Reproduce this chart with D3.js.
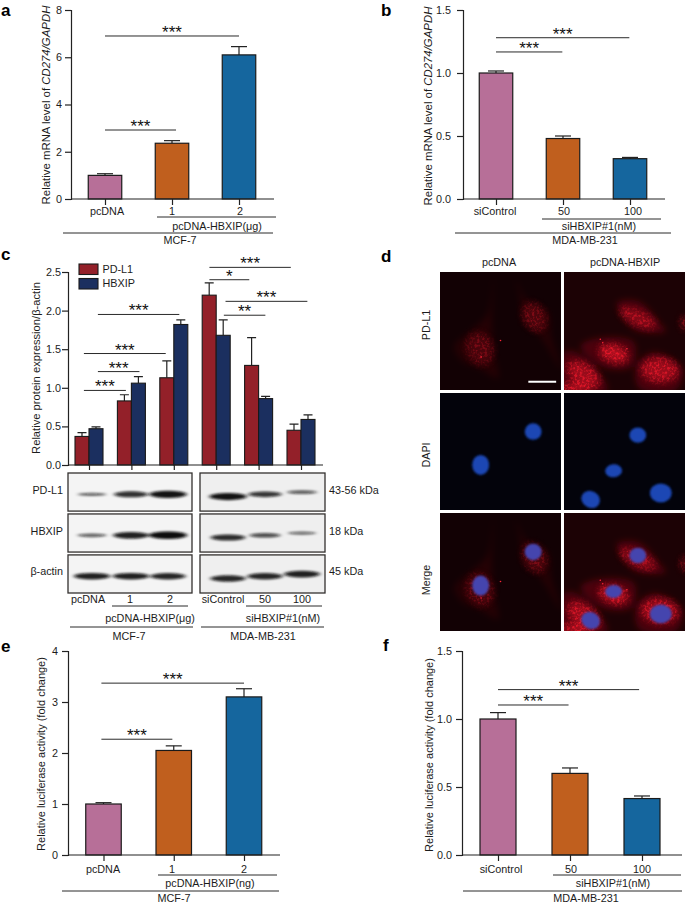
<!DOCTYPE html>
<html>
<head>
<meta charset="utf-8">
<script src="https://cdn.jsdelivr.net/npm/d3@7"></script>
<style>
  html, body { margin: 0; padding: 0; background: #fff; }
  svg { display: block; }
  text { font-family: "Liberation Sans", Arial, sans-serif; fill: #1c1c1c; font-size: 10.8px; }
  .letter { font-weight: bold; font-size: 17px; fill: #000; }
  .star { font-size: 17px; fill: #111; text-anchor: middle; }
  .rule { stroke: #2a2a2a; stroke-width: 1; fill: none; }
  .domain, .tick line { stroke: #222; stroke-width: 1.2; }
</style>
</head>
<body>
<svg id="fig" width="685" height="903"></svg>
<script>
// panel a
var aMeans = [1.0, 2.36, 6.1];
var aTops = [1.07, 2.47, 6.45];
var aSig = [[0, 2, 6.9, "***"], [0, 1.06, 2.92, "***"]];
// panel b
var bMeans = [1.0, 0.48, 0.32];
var bTops = [1.016, 0.5, 0.33];
var bSig = [[0, 1.99, 1.28, "***"], [0, 0.99, 1.167, "***"]];
// panel c
var cPDL1 = [0.37, 0.83, 1.13, 2.2, 1.29, 0.45];
var cPDL1Tops = [0.42, 0.91, 1.35, 2.36, 1.65, 0.53];
var cHBXIP = [0.47, 1.06, 1.82, 1.68, 0.86, 0.59];
var cHBXIPTops = [0.495, 1.146, 1.88, 1.88, 0.888, 0.65];
var cSig = [
  [-0.12, 0.87, 0.966, "***"], [0.21, 1.19, 1.21, "***"], [-0.12, 1.81, 1.444, "***"],
  [0.21, 2.13, 1.95, "***"], [2.84, 4.76, 2.56, "***"], [2.84, 3.78, 2.4, "*"],
  [3.22, 5.15, 2.12, "***"], [3.18, 4.16, 1.94, "**"]
];
// panel e
var eMeans = [1.0, 2.05, 3.1];
var eTops = [1.026, 2.14, 3.26];
var eSig = [[-0.03, 2, 3.37, "***"], [-0.03, 0.98, 2.27, "***"]];
// panel f
var fMeans = [1.0, 0.6, 0.415];
var fTops = [1.047, 0.64, 0.434];
var fSig = [[0, 1.96, 1.216, "***"], [0, 0.98, 1.103, "***"]];

var threeColors = ["#b76f98", "#c05f1e", "#15669e"];
var seriesNames = ["PD-L1", "HBXIP"];
var seriesColors = ["#932029", "#1b2f5f"];

// western blot band strengths, one row per antibody, lanes left to right
var blotRows = ["PD-L1", "HBXIP", "β-actin"];
var blotSizes = ["43-56 kDa", "18 kDa", "45 kDa"];
var blotMCF = [[0.3, 0.72, 0.95], [0.35, 0.85, 1.0], [0.85, 0.85, 0.8]];
var blotMDA = [[0.95, 0.68, 0.38], [0.75, 0.5, 0.28], [0.8, 0.8, 0.85]];

// micrograph contents in 0-100 panel units
var ctrlBodies = [
  [[44, 5], [43, 41], [45, 69], [48, 90], [33, 82], [18, 75], [12, 63], [26, 49], [39, 36]],
  [[63, 6], [71, 23], [89, 33], [92, 55], [100, 82], [83, 55], [68, 41], [66, 21]]
];
var ctrlBlobs = [[33, 65, 11, 14, -20, 0.55], [78, 38, 9, 13, -25, 0.6]];
var ctrlNuclei = [[33.6, 61.5, 7, 8.5, 0], [77, 33, 7, 7, 0]];
var ctrlDots = [[34, 72], [50, 58]];
var hbxipBodies = [
  [[44, 26], [62, 25], [80, 44], [84, 50], [60, 50], [48, 38]],
  [[14, 62], [36, 55], [58, 60], [56, 80], [36, 82], [20, 72]],
  [[0, 68], [14, 70], [36, 100], [0, 100]],
  [[60, 78], [75, 68], [98, 82], [92, 100], [62, 98]]
];
var hbxipBlobs = [
  [61, 39, 16, 6, 25, 0.6], [41, 69, 12, 7, 15, 1], [79, 83, 15, 10, 5, 0.8],
  [16, 87, 15, 9, 35, 0.8], [10, 98, 14, 4, 0, 1], [100, 43, 3, 6, 0, 0.6]
];
var hbxipNuclei = [[61, 36, 7, 6.5, 0], [41, 66.5, 7, 5.5, -5], [80, 85.5, 9, 8, 0], [22, 91, 8, 7, 30]];
var hbxipDots = [[30, 57], [52, 65], [32, 60]];

var svg = d3.select("#fig");
var defs = svg.append("defs");

function addText(g, x, y, str, anchor) {
  return g.append("text").attr("x", x).attr("y", y).attr("text-anchor", anchor || "middle").text(str);
}

function addRule(g, x1, x2, y) {
  g.append("line").attr("class", "rule").attr("x1", x1).attr("x2", x2).attr("y1", y).attr("y2", y);
}

function addYLabel(g, x, y, parts, size) {
  var t = g.append("text").attr("transform", "translate(" + x + "," + y + ") rotate(-90)").attr("text-anchor", "middle").style("font-size", size + "px");
  parts.forEach(function(p) {
    t.append("tspan").style("font-style", p[1] ? "italic" : "normal").text(p[0]);
  });
}

// axes shared by every bar panel
function drawAxes(g, p, xScale, n) {
  g.append("g").attr("transform", "translate(" + p.left + ",0)")
    .call(d3.axisLeft(p.y).tickValues(p.ticks).tickFormat(p.fmt).tickSize(6).tickPadding(p.pad))
    .call(function(s) { s.selectAll("text").style("font-size", "10.8px"); });
  var tail = d3.axisBottom(xScale).tickValues(d3.range(n)).tickFormat("").tickSize(p.tickLen).tickSizeOuter(0);
  var xg = g.append("g").attr("transform", "translate(0," + p.y(0) + ")").call(tail);
  xg.select(".domain").attr("d", "M" + p.left + ",0H" + p.right);
}

function drawSig(g, xScale, yScale, sig) {
  sig.forEach(function(s) {
    addRule(g, xScale(s[0]), xScale(s[1]), yScale(s[2]));
    g.append("text").attr("class", "star")
      .attr("x", (xScale(s[0]) + xScale(s[1])) / 2)
      .attr("y", yScale(s[2]) + 2)
      .text(s[3]);
  });
}

function barPanel(p) {
  var g = svg.append("g");
  var x = d3.scaleLinear().domain([0, 2]).range(p.xs);
  g.selectAll("line.err").data(p.means).enter().append("line").attr("class", "err")
    .attr("x1", function(d, i) { return x(i); }).attr("x2", function(d, i) { return x(i); })
    .attr("y1", function(d) { return p.y(d); })
    .attr("y2", function(d, i) { return p.y(p.tops[i]); })
    .attr("stroke", "#222").attr("stroke-width", 1.2);
  g.selectAll("line.cap").data(p.tops).enter().append("line").attr("class", "cap")
    .attr("x1", function(d, i) { return x(i) - 8; }).attr("x2", function(d, i) { return x(i) + 8; })
    .attr("y1", function(d) { return p.y(d); }).attr("y2", function(d) { return p.y(d); })
    .attr("stroke", "#222").attr("stroke-width", 1.2);
  g.selectAll("rect").data(p.means).enter().append("rect")
    .attr("x", function(d, i) { return x(i) - p.barW / 2; })
    .attr("width", p.barW)
    .attr("y", function(d) { return p.y(d); })
    .attr("height", function(d) { return p.y(0) - p.y(d); })
    .attr("fill", function(d, i) { return threeColors[i]; })
    .attr("stroke", "#1a1a1a").attr("stroke-width", 1.2);
  drawAxes(g, p, x, 3);
  drawSig(g, x, p.y, p.sig);
  addYLabel(g, p.labelX, p.labelY, p.label, p.labelSize);
  p.texts.forEach(function(t) { addText(g, t[0], t[1], t[2]); });
  p.rules.forEach(function(r) { addRule(g, r[0], r[1], r[2]); });
}

var mrna = [["Relative mRNA level of "], ["CD274/GAPDH", true]];
var luc = [["Relative luciferase activity (fold change)"]];

barPanel({
  means: aMeans, tops: aTops, sig: aSig, xs: [105, 239], barW: 33.5, left: 71, right: 274, tickLen: 6, pad: 3,
  y: d3.scaleLinear().domain([0, 8]).range([199, 10]), ticks: [0, 2, 4, 6, 8], fmt: d3.format("d"),
  label: mrna, labelX: 50, labelY: 105, labelSize: 11.4,
  texts: [[107, 215, "pcDNA"], [172, 215, "1"], [240, 215, "2"], [217, 230, "pcDNA-HBXIP(μg)"], [180, 244, "MCF-7"]],
  rules: [[157, 276, 217], [63, 273, 233]]
});
barPanel({
  means: bMeans, tops: bTops, sig: bSig, xs: [496, 630], barW: 33.5, left: 463, right: 665, tickLen: 6, pad: 6,
  y: d3.scaleLinear().domain([0, 1.5]).range([199, 10]), ticks: [0, 0.5, 1, 1.5], fmt: d3.format(".1f"),
  label: mrna, labelX: 432, labelY: 106, labelSize: 11.4,
  texts: [[495, 215, "siControl"], [564, 215, "50"], [633, 215, "100"], [599, 230, "siHBXIP#1(nM)"], [585, 244, "MDA-MB-231"]],
  rules: [[542, 661, 219], [455, 671, 233]]
});
barPanel({
  means: eMeans, tops: eTops, sig: eSig, xs: [103.5, 244], barW: 35.5, left: 68, right: 280, tickLen: 6, pad: 4,
  y: d3.scaleLinear().domain([0, 4]).range([855, 651]), ticks: [0, 1, 2, 3, 4], fmt: d3.format("d"),
  label: luc, labelX: 45, labelY: 754, labelSize: 11,
  texts: [[103, 873, "pcDNA"], [172, 873, "1"], [244, 873, "2"], [210, 887, "pcDNA-HBXIP(ng)"], [174, 902, "MCF-7"]],
  rules: [[158, 277, 875], [62, 279, 891]]
});
barPanel({
  means: fMeans, tops: fTops, sig: fSig, xs: [498, 642], barW: 36, left: 462, right: 682, tickLen: 6, pad: 4,
  y: d3.scaleLinear().domain([0, 1.5]).range([855, 651]), ticks: [0, 0.5, 1, 1.5], fmt: d3.format(".1f"),
  label: luc, labelX: 433, labelY: 755, labelSize: 11,
  texts: [[501, 873, "siControl"], [571, 873, "50"], [642, 873, "100"], [613, 887, "siHBXIP#1(nM)"], [586, 902, "MDA-MB-231"]],
  rules: [[553, 681, 875], [463, 682, 891]]
});

// panel c grouped bars
(function() {
  var g = svg.append("g");
  var y = d3.scaleLinear().domain([0, 2.5]).range([465, 272]);
  var x = d3.scaleLinear().domain([0, 5]).range([89, 301]);
  var bw = 14;
  var series = [[cPDL1, cPDL1Tops, -1], [cHBXIP, cHBXIPTops, 0]];
  series.forEach(function(s, k) {
    var sg = g.append("g");
    sg.selectAll("path").data(s[0]).enter().append("path")
      .attr("d", function(d, i) {
        var cx = x(i) + (s[2] + 0.5) * bw;
        return "M" + (cx - 4.5) + "," + y(s[1][i]) + "H" + (cx + 4.5) + "M" + cx + "," + y(s[1][i]) + "V" + y(d);
      })
      .attr("stroke", "#222").attr("stroke-width", 1.2).attr("fill", "none");
    sg.selectAll("rect").data(s[0]).enter().append("rect")
      .attr("x", function(d, i) { return x(i) + s[2] * bw; })
      .attr("width", bw)
      .attr("y", function(d) { return y(d); })
      .attr("height", function(d) { return y(0) - y(d); })
      .attr("fill", seriesColors[k])
      .attr("stroke", "#1a1a1a").attr("stroke-width", 1.1);
  });
  drawAxes(g, { left: 68, right: 323, y: y, ticks: [0, 0.5, 1, 1.5, 2, 2.5], fmt: d3.format(".1f"), tickLen: 5, pad: 1 }, x, 6);
  drawSig(g, x, y, cSig);
  addYLabel(g, 40, 368, [["Relative protein expression/β-actin"]], 11.2);
  seriesNames.forEach(function(name, i) {
    g.append("rect").attr("x", 79).attr("y", 264 + i * 14.5).attr("width", 19).attr("height", 10.5)
      .attr("fill", seriesColors[i]).attr("stroke", "#1a1a1a").attr("stroke-width", 1.1);
    addText(g, 102.5, 272.5 + i * 14.7, name, "start");
  });

  // blots
  defs.append("filter").attr("id", "bandBlur").attr("x", "-30%").attr("y", "-100%").attr("width", "160%").attr("height", "300%")
    .append("feGaussianBlur").attr("stdDeviation", "2.2 1.1");
  var rowY = d3.scaleBand().domain(blotRows).range([473, 593]).paddingInner(0.07).paddingOuter(0);
  var groups = [
    { lanes: blotMCF, x0: 68, x1: 192, centers: [92, 131, 168], tilt: 0, fill: "#f4f4f4" },
    { lanes: blotMDA, x0: 200, x1: 325, centers: [228, 265, 302], tilt: -2.2, fill: "#efefef" }
  ];
  groups.forEach(function(b) {
    blotRows.forEach(function(name, r) {
      var top = rowY(name), h = rowY.bandwidth();
      var clipId = "blot" + b.x0 + r;
      defs.append("clipPath").attr("id", clipId).append("rect").attr("x", b.x0).attr("y", top).attr("width", b.x1 - b.x0).attr("height", h);
      g.append("rect").attr("x", b.x0).attr("y", top).attr("width", b.x1 - b.x0).attr("height", h).attr("fill", b.fill);
      g.append("g").attr("clip-path", "url(#" + clipId + ")").attr("filter", "url(#bandBlur)")
        .selectAll("ellipse").data(b.lanes[r]).enter().append("ellipse")
        .attr("cx", function(d, i) { return b.centers[i]; })
        .attr("cy", function(d, i) { return top + h * 0.56 + (i - 1) * b.tilt; })
        .attr("rx", function(d) { return 12 + 7 * d; })
        .attr("ry", function(d) { return 0.8 + 3 * d; })
        .attr("fill", "#0c0c0c")
        .attr("opacity", function(d) { return 0.45 + 0.55 * d; });
      g.append("rect").attr("x", b.x0).attr("y", top).attr("width", b.x1 - b.x0).attr("height", h)
        .attr("fill", "none").attr("stroke", "#33302e").attr("stroke-width", 1.3);
    });
  });
  var sideY = [494, 535, 575];
  blotRows.forEach(function(name, r) {
    addText(g, 63, sideY[r], name, "end");
    addText(g, 329, sideY[r], blotSizes[r], "start");
  });
  [[88, "pcDNA"], [130, "1"], [170, "2"], [223, "siControl"], [265, "50"], [302, "100"]].forEach(function(t) { addText(g, t[0], 603, t[1]); });
  addRule(g, 112, 188, 606);
  addRule(g, 246, 322, 606);
  addText(g, 150, 622, "pcDNA-HBXIP(μg)");
  addText(g, 283, 622, "siHBXIP#1(nM)");
  addRule(g, 70, 193, 627);
  addRule(g, 201, 324, 627);
  addText(g, 129, 640, "MCF-7");
  addText(g, 263, 640, "MDA-MB-231");
})();

// panel d micrographs
(function() {
  var g = svg.append("g");
  defs.append("filter").attr("id", "soft").attr("x", "-30%").attr("y", "-30%").attr("width", "160%").attr("height", "160%")
    .append("feGaussianBlur").attr("stdDeviation", 3);
  var sp = defs.append("filter").attr("id", "speckle").attr("x", "-30%").attr("y", "-30%").attr("width", "160%").attr("height", "160%")
    .attr("color-interpolation-filters", "sRGB");
  sp.append("feGaussianBlur").attr("in", "SourceGraphic").attr("stdDeviation", 3.6).attr("result", "b");
  sp.append("feTurbulence").attr("type", "fractalNoise").attr("baseFrequency", 0.4).attr("numOctaves", 2).attr("seed", 4).attr("result", "n");
  sp.append("feColorMatrix").attr("in", "n").attr("type", "matrix")
    .attr("values", "0 0 0 0 0  0 0 0 0 0  0 0 0 0 0  4 0 0 0 -1.8").attr("result", "m");
  sp.append("feComposite").attr("in", "b").attr("in2", "m").attr("operator", "in").attr("result", "spots");
  sp.append("feComponentTransfer").attr("in", "b").attr("result", "base")
    .append("feFuncA").attr("type", "linear").attr("slope", 0.62);
  var fm = sp.append("feMerge");
  fm.append("feMergeNode").attr("in", "base");
  fm.append("feMergeNode").attr("in", "spots");
  var nb = defs.append("filter").attr("id", "nucBlur");
  nb.append("feGaussianBlur").attr("stdDeviation", 0.9);

  var cols = [
    { x0: 440, x1: 561, bodies: ctrlBodies, blobs: ctrlBlobs, nuclei: ctrlNuclei, dots: ctrlDots, bg: "#120104", body: 0.1, gain: 0.55 },
    { x0: 564, x1: 685, bodies: hbxipBodies, blobs: hbxipBlobs, nuclei: hbxipNuclei, dots: hbxipDots, bg: "#1c0205", body: 0.28, gain: 1 }
  ];
  var rows = [[272, 390, "PD-L1"], [393, 510, "DAPI"], [513, 631, "Merge"]];
  var line = d3.line().curve(d3.curveCatmullRomClosed);
  cols.forEach(function(c, ci) {
    rows.forEach(function(row, ri) {
      var sx = d3.scaleLinear().domain([0, 100]).range([c.x0, c.x1]);
      var sy = d3.scaleLinear().domain([0, 100]).range([row[0], row[1]]);
      var id = "cell" + ci + ri;
      defs.append("clipPath").attr("id", id).append("rect").attr("x", c.x0).attr("y", row[0]).attr("width", c.x1 - c.x0).attr("height", row[1] - row[0]);
      var pg = g.append("g").attr("clip-path", "url(#" + id + ")");
      pg.append("rect").attr("x", c.x0).attr("y", row[0]).attr("width", c.x1 - c.x0).attr("height", row[1] - row[0])
        .attr("fill", ri === 1 ? "#03030b" : c.bg);
      if (ri !== 1) {
        pg.append("g").attr("filter", "url(#soft)").selectAll("path").data(c.bodies).enter().append("path")
          .attr("d", function(d) { return line(d.map(function(q) { return [sx(q[0]), sy(q[1])]; })); })
          .attr("fill", "#c4101f").attr("opacity", c.body);
        pg.append("g").attr("filter", "url(#speckle)").selectAll("ellipse").data(c.blobs).enter().append("ellipse")
          .attr("transform", function(d) { return "translate(" + sx(d[0]) + "," + sy(d[1]) + ") rotate(" + d[4] + ")"; })
          .attr("rx", function(d) { return d[2] * 1.21; })
          .attr("ry", function(d) { return d[3] * 1.18; })
          .attr("fill", "#e8182a")
          .attr("opacity", function(d) { return d[5] * c.gain; });
        pg.selectAll("circle").data(c.dots).enter().append("circle")
          .attr("cx", function(d) { return sx(d[0]); }).attr("cy", function(d) { return sy(d[1]); })
          .attr("r", 0.8).attr("fill", "#ff2436");
      }
      if (ri !== 0) {
        pg.append("g").attr("filter", "url(#nucBlur)").selectAll("ellipse.n").data(c.nuclei).enter().append("ellipse").attr("class", "n")
          .attr("transform", function(d) { return "translate(" + sx(d[0]) + "," + sy(d[1]) + ") rotate(" + d[4] + ")"; })
          .attr("rx", function(d) { return d[2] * 1.21; })
          .attr("ry", function(d) { return d[3] * 1.18; })
          .attr("fill", ri === 1 ? "#1a46b4" : "#4445ae");
      }
      if (ci === 0 && ri === 0) {
        g.append("line").attr("x1", sx(73)).attr("x2", sx(96)).attr("y1", sy(93)).attr("y2", sy(93))
          .attr("stroke", "#fff").attr("stroke-width", 2);
      }
    });
  });
  addText(g, 499, 266, "pcDNA");
  addText(g, 625, 266, "pcDNA-HBXIP");
  [[430, 325, "PD-L1"], [430, 455, "DAPI"], [430, 580, "Merge"]].forEach(function(t) {
    g.append("text").attr("transform", "translate(" + t[0] + "," + t[1] + ") rotate(-90)").attr("text-anchor", "middle").text(t[2]);
  });
})();

[["a", 1, 16], ["b", 381, 16], ["c", 1, 260], ["d", 381, 262], ["e", 1, 652], ["f", 383, 651]].forEach(function(l) {
  svg.append("text").attr("class", "letter").attr("x", l[1]).attr("y", l[2]).text(l[0]);
});
</script>
</body>
</html>
